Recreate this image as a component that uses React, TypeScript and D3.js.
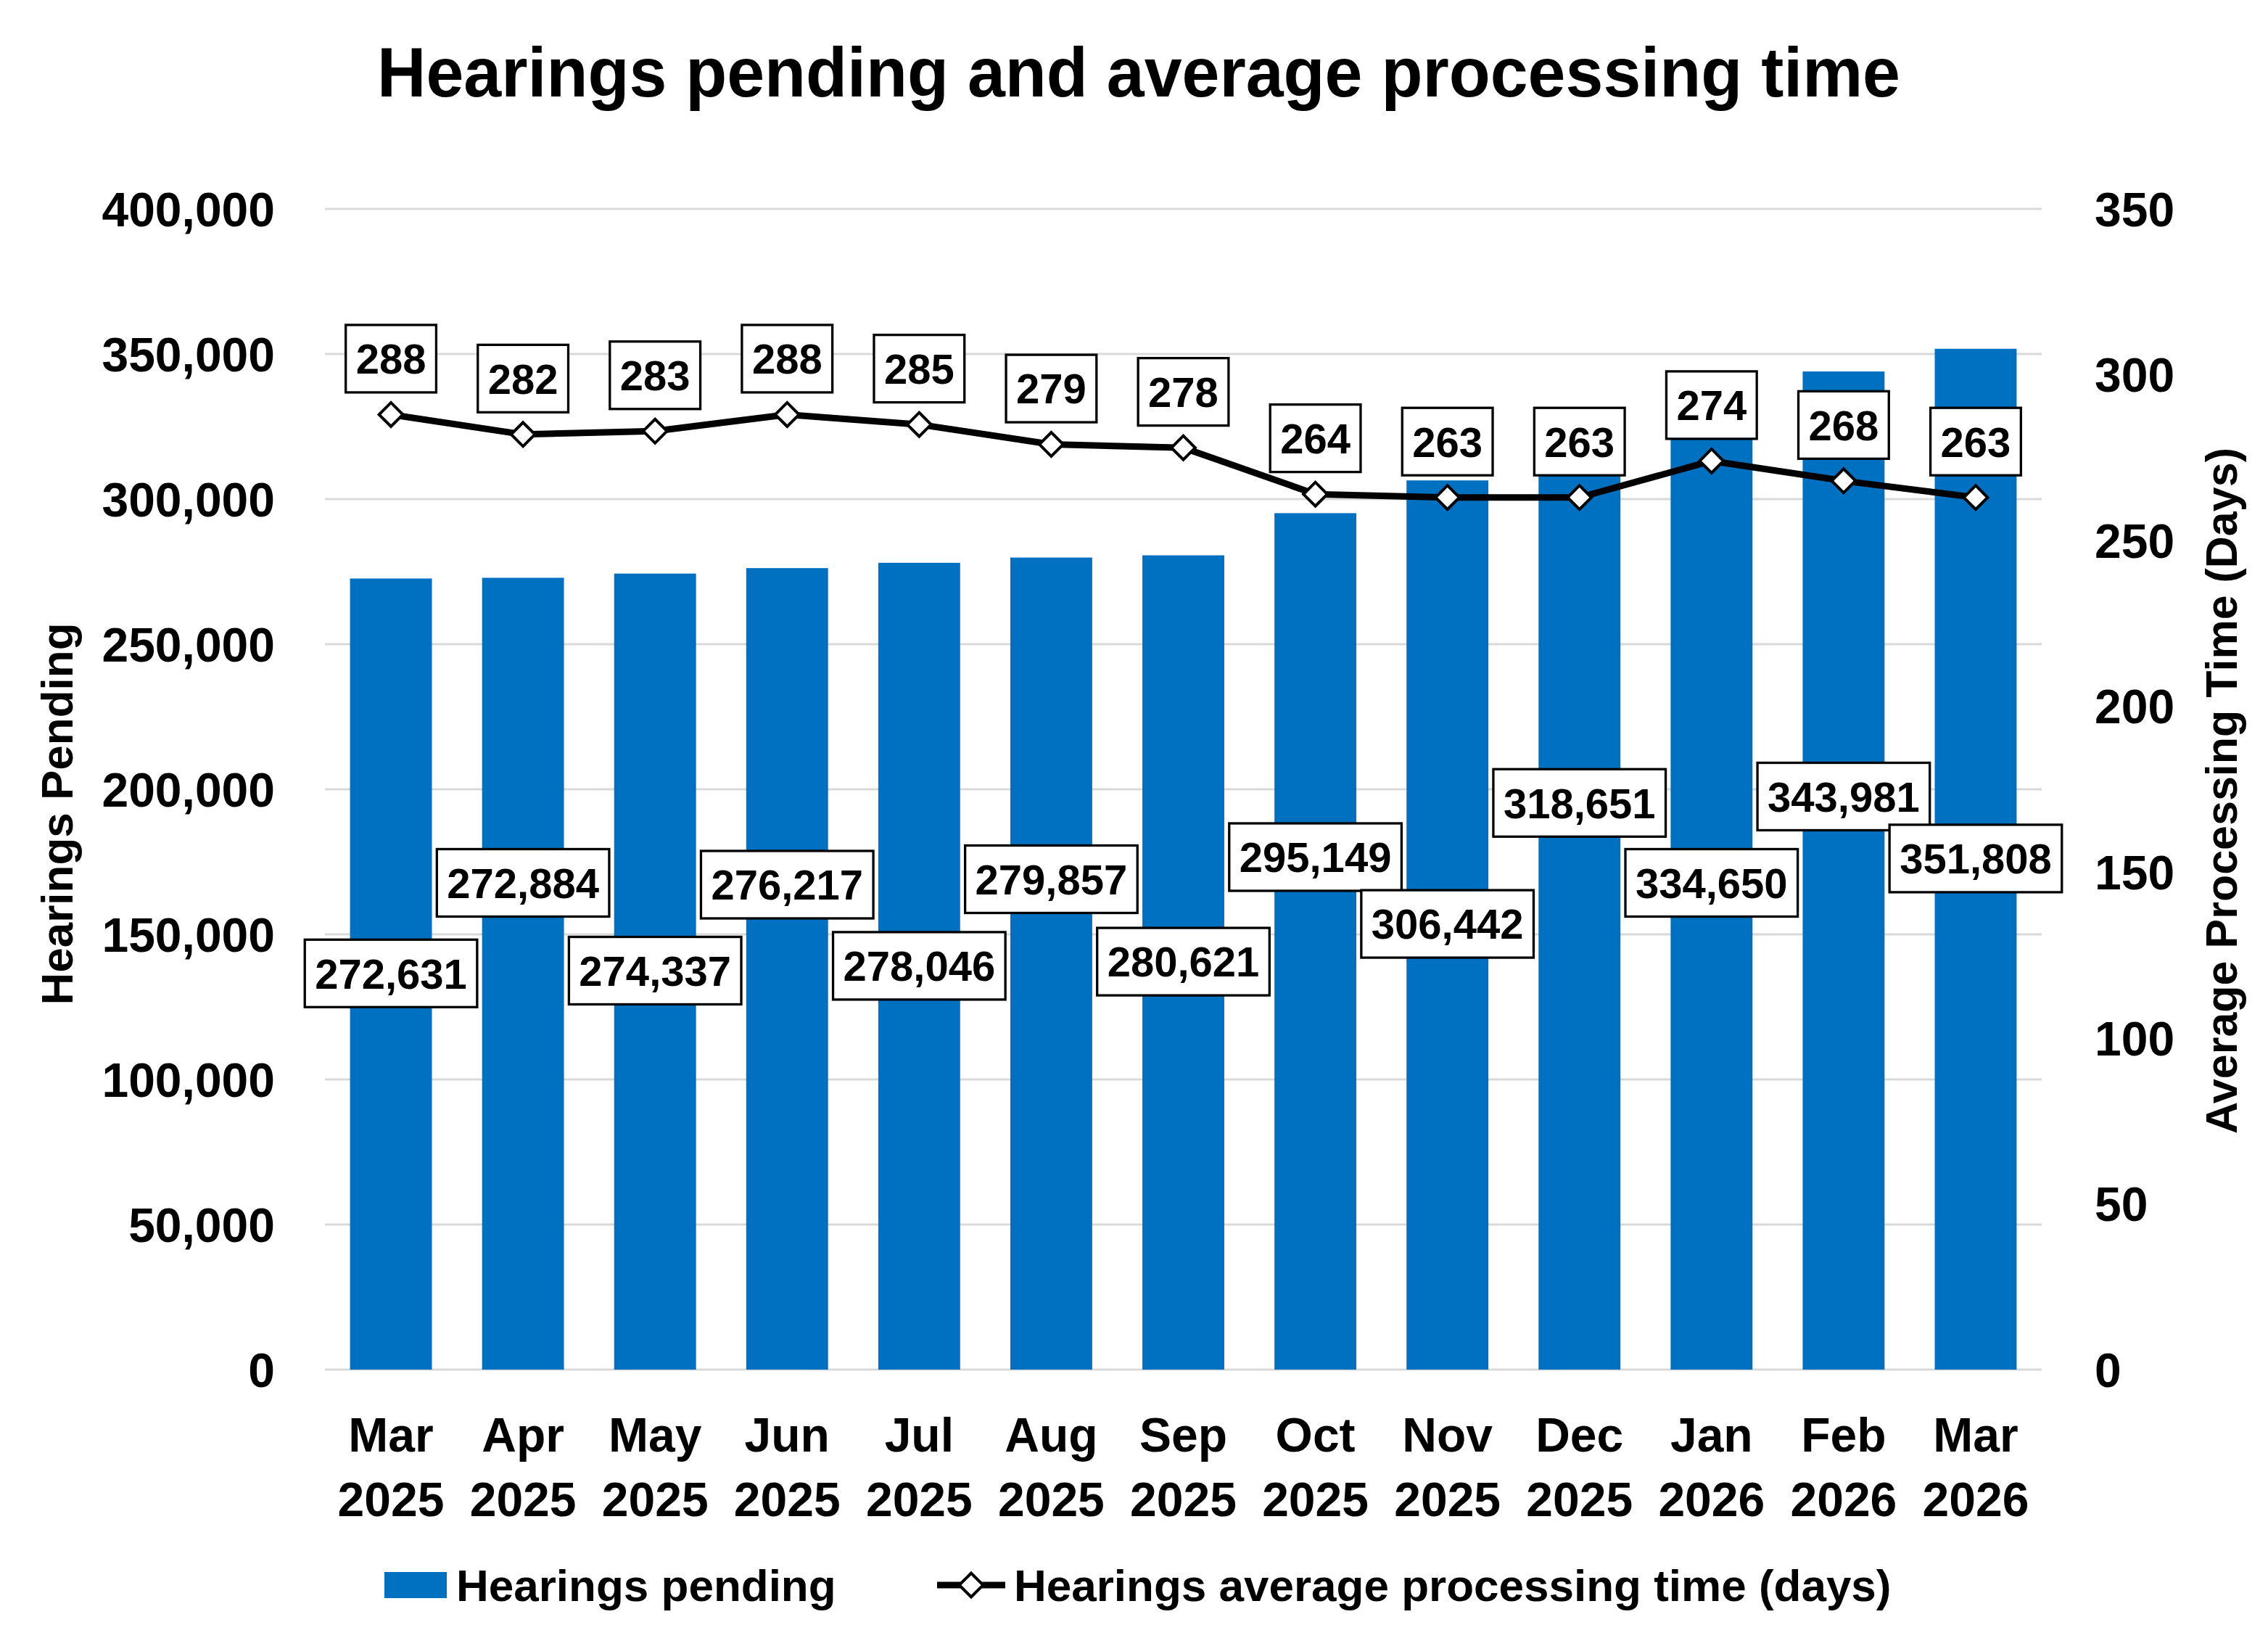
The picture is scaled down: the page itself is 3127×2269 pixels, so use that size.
import React, { useEffect } from "react";
import * as d3 from "d3";

const months = ["Mar", "Apr", "May", "Jun", "Jul", "Aug", "Sep", "Oct", "Nov", "Dec", "Jan", "Feb", "Mar"];
const years = ["2025", "2025", "2025", "2025", "2025", "2025", "2025", "2025", "2025", "2025", "2026", "2026", "2026"];
const hearingsPending = [272631, 272884, 274337, 276217, 278046, 279857, 280621, 295149, 306442, 318651, 334650, 343981, 351808];
const processingDays = [288, 282, 283, 288, 285, 279, 278, 264, 263, 263, 274, 268, 263];
const leftTicks = [0, 50000, 100000, 150000, 200000, 250000, 300000, 350000, 400000];
const rightTicks = [0, 50, 100, 150, 200, 250, 300, 350];
// where each bar's data label sits, in left-axis units (manual label placement as in the source)
const barLabelAnchor = [136550, 167750, 137500, 167125, 139150, 169000, 140600, 176625, 153600, 195300, 167750, 197500, 176150];

const title = "Hearings pending and average processing time";
const leftTitle = "Hearings Pending";
const rightTitle = "Average Processing Time (Days)";
const legendBar = "Hearings pending";
const legendLine = "Hearings average processing time (days)";

const W = 3127;
const H = 2269;
const FONT = "'Liberation Sans', Arial, sans-serif";
const BLUE = "#0070C0";
const GRID = "#D9D9D9";

const plot = { left: 448, right: 2815, top: 288, bottom: 1888 };

const fmt = d3.format(",");

function boxWidth(label: string, fs: number) {
  let w = 0;
  for (const ch of label) w += ch === "," ? 0.278 * fs : 0.556 * fs;
  return w + 28;
}

export default function App() {
  useEffect(() => {
    document.body.style.margin = "0";
  }, []);

  const keys = months.map((m, i) => `${m} ${years[i]}`);
  const x = d3
    .scaleBand<string>()
    .domain(keys)
    .range([plot.left, plot.right])
    .paddingInner(0.38)
    .paddingOuter(0.19);
  const yL = d3.scaleLinear().domain([0, 400000]).range([plot.bottom, plot.top]);
  const yR = d3.scaleLinear().domain([0, 350]).range([plot.bottom, plot.top]);
  const cx = (i: number) => (x(keys[i]) as number) + x.bandwidth() / 2;

  const line = d3
    .line<number>()
    .x((_, i) => cx(i))
    .y((d) => yR(d));
  const diamond = d3.symbol().type(d3.symbolSquare).size(540)() as string;

  const labelFs = 58;
  const boxH = 93;
  const legY = 2185;

  return (
    <svg width={W} height={H} viewBox={`0 0 ${W} ${H}`} style={{ display: "block", background: "#fff" }} fontFamily={FONT} fontWeight="bold">
      <rect x={0} y={0} width={W} height={H} fill="#fff" />
      <text x={1570} y={133} textAnchor="middle" fontSize={97} textLength={2100} lengthAdjust="spacingAndGlyphs">
        {title}
      </text>

      {/* gridlines */}
      {leftTicks.map((t) => (
        <line key={t} x1={plot.left} x2={plot.right} y1={yL(t)} y2={yL(t)} stroke={GRID} strokeWidth={3} />
      ))}

      {/* left ticks */}
      {leftTicks.map((t) => (
        <text key={"l" + t} x={379} y={yL(t)} dy="0.36em" textAnchor="end" fontSize={66}>
          {fmt(t)}
        </text>
      ))}
      {/* right ticks */}
      {rightTicks.map((t) => (
        <text key={"r" + t} x={2888} y={yR(t)} dy="0.36em" textAnchor="start" fontSize={66}>
          {t}
        </text>
      ))}

      <text transform={`translate(78,1122) rotate(-90)`} textAnchor="middle" dy="0.36em" fontSize={62}>
        {leftTitle}
      </text>
      <text transform={`translate(3062,1090) rotate(-90)`} textAnchor="middle" dy="0.36em" fontSize={61}>
        {rightTitle}
      </text>

      {/* bars */}
      {hearingsPending.map((v, i) => (
        <rect key={"b" + i} x={x(keys[i])} y={yL(v)} width={x.bandwidth()} height={yL(0) - yL(v)} fill={BLUE} />
      ))}

      {/* x labels */}
      {keys.map((k, i) => (
        <text key={"x" + i} x={cx(i)} textAnchor="middle" fontSize={66}>
          <tspan x={cx(i)} y={2001}>{months[i]}</tspan>
          <tspan x={cx(i)} y={2090}>{years[i]}</tspan>
        </text>
      ))}

      {/* line */}
      <path d={line(processingDays) as string} fill="none" stroke="#000" strokeWidth={9} strokeLinejoin="round" />
      {processingDays.map((v, i) => (
        <path key={"m" + i} d={diamond} transform={`translate(${cx(i)},${yR(v)}) rotate(45)`} fill="#fff" stroke="#000" strokeWidth={4} />
      ))}

      {/* bar data labels */}
      {hearingsPending.map((v, i) => {
        const label = fmt(v);
        const w = boxWidth(label, labelFs);
        const cy = yL(barLabelAnchor[i]);
        return (
          <g key={"bl" + i}>
            <rect x={cx(i) - w / 2} y={cy - boxH / 2} width={w} height={boxH} fill="#fff" stroke="#000" strokeWidth={3.3} />
            <text x={cx(i)} y={cy} dy="0.36em" textAnchor="middle" fontSize={labelFs}>
              {label}
            </text>
          </g>
        );
      })}

      {/* line data labels */}
      {processingDays.map((v, i) => {
        const label = String(v);
        const w = boxWidth(label, labelFs);
        const cy = yR(v) - 77;
        return (
          <g key={"ll" + i}>
            <rect x={cx(i) - w / 2} y={cy - boxH / 2} width={w} height={boxH} fill="#fff" stroke="#000" strokeWidth={3.3} />
            <text x={cx(i)} y={cy} dy="0.36em" textAnchor="middle" fontSize={labelFs}>
              {label}
            </text>
          </g>
        );
      })}

      {/* legend */}
      <rect x={530} y={legY - 18} width={86} height={36} fill={BLUE} />
      <text x={629} y={legY} dy="0.36em" fontSize={62}>
        {legendBar}
      </text>
      <line x1={1292} x2={1386} y1={legY} y2={legY} stroke="#000" strokeWidth={9} />
      <path d={diamond} transform={`translate(1339,${legY}) rotate(45)`} fill="#fff" stroke="#000" strokeWidth={4} />
      <text x={1398} y={legY} dy="0.36em" fontSize={62}>
        {legendLine}
      </text>
    </svg>
  );
}
